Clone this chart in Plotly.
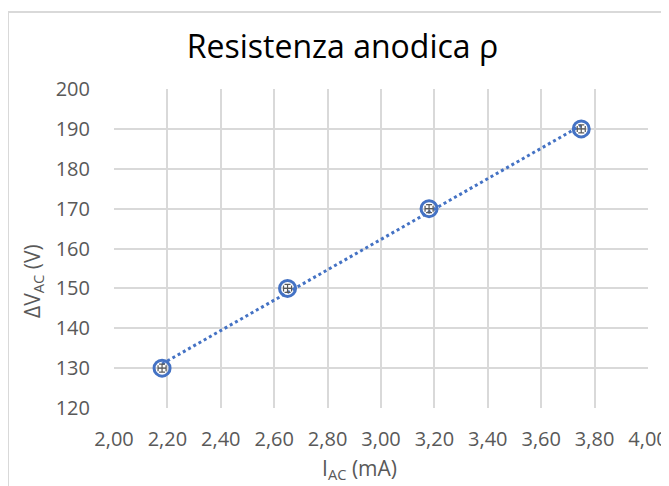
import numpy as np
import plotly.graph_objects as go

i_ac = [2.18, 2.65, 3.18, 3.75]
dv_ac = [130, 150, 170, 190]
err_i = [0.015, 0.015, 0.015, 0.015]
err_v = [1, 1, 1, 1]
x_ticks = [2.0, 2.2, 2.4, 2.6, 2.8, 3.0, 3.2, 3.4, 3.6, 3.8, 4.0]
y_ticks = [120, 130, 140, 150, 160, 170, 180, 190, 200]

blue = "#4472C4"
grid = "#d9d9d9"
txt = "#595959"
font = "Open Sans, Liberation Sans, sans-serif"

slope, icpt = np.polyfit(i_ac, dv_ac, 1)
tx = [min(i_ac), max(i_ac)]
ty = [slope * v + icpt for v in tx]

fig = go.Figure()
fig.add_trace(go.Scatter(x=tx, y=ty, mode="lines",
                         line=dict(color=blue, width=3, dash="dot"),
                         hoverinfo="skip", showlegend=False))
fig.add_trace(go.Scatter(
    x=i_ac, y=dv_ac, mode="markers",
    marker=dict(symbol="circle-open", size=16, color=blue, line=dict(width=3, color=blue)),
    error_x=dict(type="data", array=err_i, color=txt, thickness=1.2, width=3),
    error_y=dict(type="data", array=err_v, color=txt, thickness=1.2, width=3),
    showlegend=False))

# page body adds an 8px offset; target pixel positions are shifted by it
OFF = 8
W, H = 669, 486
L, R, T, B = 114 - OFF, 648 - OFF, 89 - OFF, 408 - OFF
pw, ph = R - L, B - T

def px_x(p):
    return (p - OFF - L) / pw

def px_y(p):
    return (B - (p - OFF)) / ph

fig.update_layout(
    width=W, height=H, autosize=False,
    margin=dict(l=L, r=W - R, t=T, b=H - B),
    paper_bgcolor="white", plot_bgcolor="white",
    separators=",.",
    font=dict(family=font, color=txt, size=20),
    title=dict(text="Resistenza anodica ρ", x=0.5, xanchor="center",
               y=1 - (47 - OFF) / H, yanchor="middle",
               font=dict(family=font, size=32, color="black")),
    xaxis=dict(range=[2.0, 4.0], tickvals=x_ticks, tickformat=".2f",
               showgrid=True, gridcolor=grid, gridwidth=1.5, zeroline=False,
               showline=False, ticks="outside", ticklen=13, tickcolor="rgba(0,0,0,0)",
               tickfont=dict(size=20, color=txt), automargin=False),
    yaxis=dict(range=[120, 200], tickvals=y_ticks,
               showgrid=True, gridcolor=grid, gridwidth=1.5, zeroline=False,
               showline=False, ticks="outside", ticklen=19, tickcolor="rgba(0,0,0,0)",
               tickfont=dict(size=20, color=txt), automargin=False),
    annotations=[
        dict(text="I<sub>AC</sub> (mA)", xref="paper", yref="paper",
             x=px_x(359), y=px_y(469), xanchor="center", yanchor="middle",
             showarrow=False, font=dict(size=21, color=txt)),
        dict(text="ΔV<sub>AC</sub> (V)", xref="paper", yref="paper",
             x=px_x(33), y=px_y(281), xanchor="center", yanchor="middle",
             textangle=-90, showarrow=False, font=dict(size=21, color=txt)),
    ],
    shapes=[dict(type="rect", xref="paper", yref="paper",
                 x0=px_x(8), x1=px_x(W + 20),
                 y0=px_y(H + 20), y1=px_y(12),
                 line=dict(color=grid, width=2), fillcolor="rgba(0,0,0,0)", layer="below")],
)

fig.write_html("out.html")
